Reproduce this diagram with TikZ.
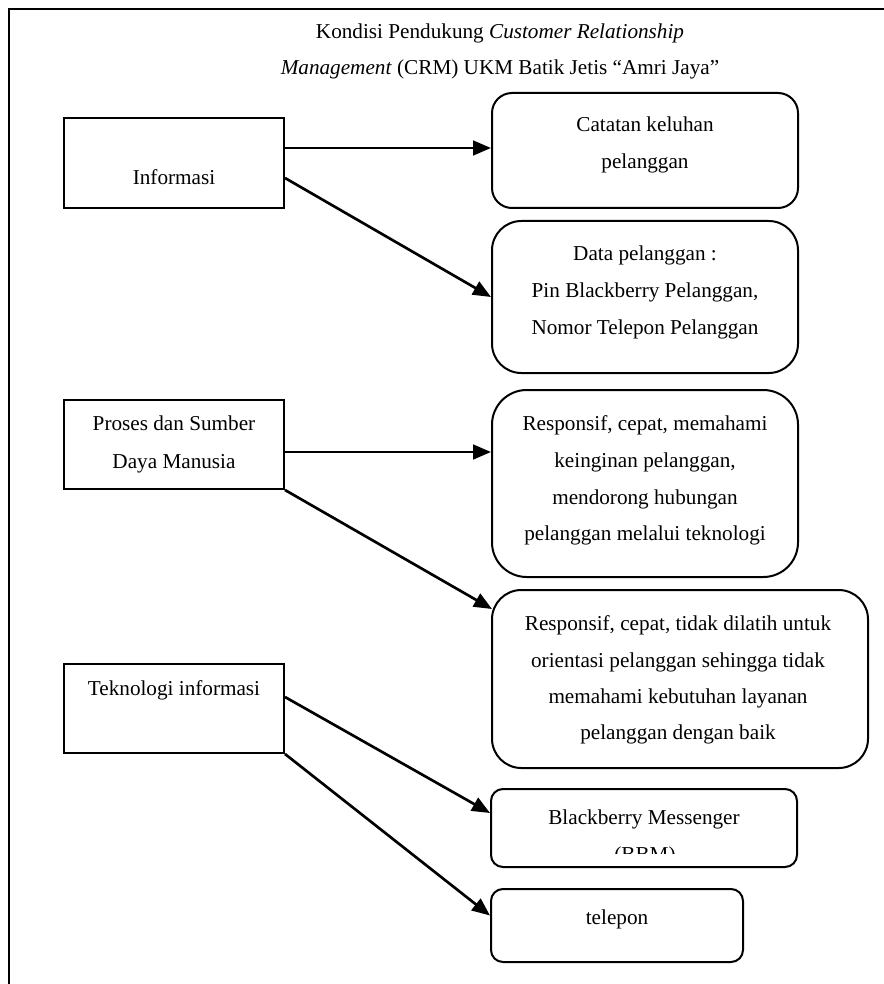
\documentclass[tikz,border=0pt]{standalone}
\usepackage{fontspec}
\setmainfont{Liberation Serif}
\usetikzlibrary{arrows.meta,calc}
\begin{document}
\begin{tikzpicture}[x=0.75pt,y=-0.75pt,
  sqbox/.style={draw,line width=1.5pt,inner sep=0pt},
  rbox/.style={draw,line width=1.5pt,inner sep=0pt,rounded corners=#1},
  txt/.style={anchor=base,inner sep=0pt,font=\fontsize{15.9}{19}\selectfont},
  arr/.style={line width=2pt,-{Triangle[length=13.5pt,width=11pt]}}]
\useasboundingbox (0,0) rectangle (884,984);
% frame
\draw[line width=1.6pt] (886,9) -- (9,9) -- (9,986);
% title
\node[txt] (t1) at (500,39) {Kondisi Pendukung \textit{Customer Relationship}};
\node[txt] (t2) at (500,75) {\textit{Management} (CRM) UKM Batik Jetis “Amri Jaya”};
% left boxes
\node[sqbox,minimum width=165pt,minimum height=67.5pt] (info) at (174,163) {};
\node[txt] (infot) at (174,185) {Informasi};
\node[sqbox,minimum width=165pt,minimum height=66.75pt] (pr) at (174,444.5) {};
\node[txt] (prt1) at (174,430) {Proses dan Sumber};
\node[txt] (prt2) at (174,468) {Daya Manusia};
\node[sqbox,minimum width=165pt,minimum height=66.75pt] (tek) at (174,708.5) {};
\node[txt] (tekt) at (174,695) {Teknologi informasi};
% right boxes
\node[rbox=15pt,minimum width=229.5pt,minimum height=86.25pt] (cat) at (645,150.5) {};
\node[txt] (catt1) at (645,132) {Catatan keluhan};
\node[txt] (catt2) at (645,169) {pelanggan};
\node[rbox=22pt,minimum width=229.5pt,minimum height=114pt] (data) at (645,297) {};
\node[txt] (datat1) at (645,260) {Data pelanggan :};
\node[txt] (datat2) at (645,297) {Pin Blackberry Pelanggan,};
\node[txt] (datat3) at (645,334) {Nomor Telepon Pelanggan};
\node[rbox=26pt,minimum width=229.5pt,minimum height=140.25pt] (r1) at (645,483.5) {};
\node[txt] (r1t1) at (645,430) {Responsif, cepat, memahami};
\node[txt] (r1t2) at (645,467) {keinginan pelanggan,};
\node[txt] (r1t3) at (645,504) {mendorong hubungan};
\node[txt] (r1t4) at (645,540) {pelanggan melalui teknologi};
\node[rbox=22pt,minimum width=282pt,minimum height=133.5pt] (r2) at (680,679) {};
\node[txt] (r2t1) at (678,630) {Responsif, cepat, tidak dilatih untuk};
\node[txt] (r2t2) at (678,667) {orientasi pelanggan sehingga tidak};
\node[txt] (r2t3) at (678,703) {memahami kebutuhan layanan};
\node[txt] (r2t4) at (678,739) {pelanggan dengan baik};
\node[rbox=9pt,minimum width=229.5pt,minimum height=58.5pt] (bbm) at (644,828) {};
\node[txt] (bbmt1) at (644,824) {Blackberry Messenger};
\begin{scope}
\clip (500,790) rectangle (790,853);
\node[txt] (bbmt2) at (645,861) {(BBM)};
\end{scope}
\node[rbox=9pt,minimum width=189pt,minimum height=54.75pt] (tel) at (617,925.5) {};
\node[txt] (telt) at (617,924) {telepon};
% connectors
\draw[arr] ($(info.east)+(0,-15)$) coordinate (a1) -- (a1 -| cat.west);
\draw[arr] ($(info.east)+(0,15)$) -- (data.west);
\draw[arr] ($(pr.east)+(0,7.5)$) coordinate (a3) -- (a3 -| r1.west);
\draw[arr] (pr.south east) -- ($(r2.north west)+(1,20)$);
\draw[arr] ($(tek.east)+(0,-11.5)$) -- ($(bbm.west)+(0,-15)$);
\draw[arr] (tek.south east) -- ($(tel.west)+(0,-10)$);
\end{tikzpicture}
\end{document}
